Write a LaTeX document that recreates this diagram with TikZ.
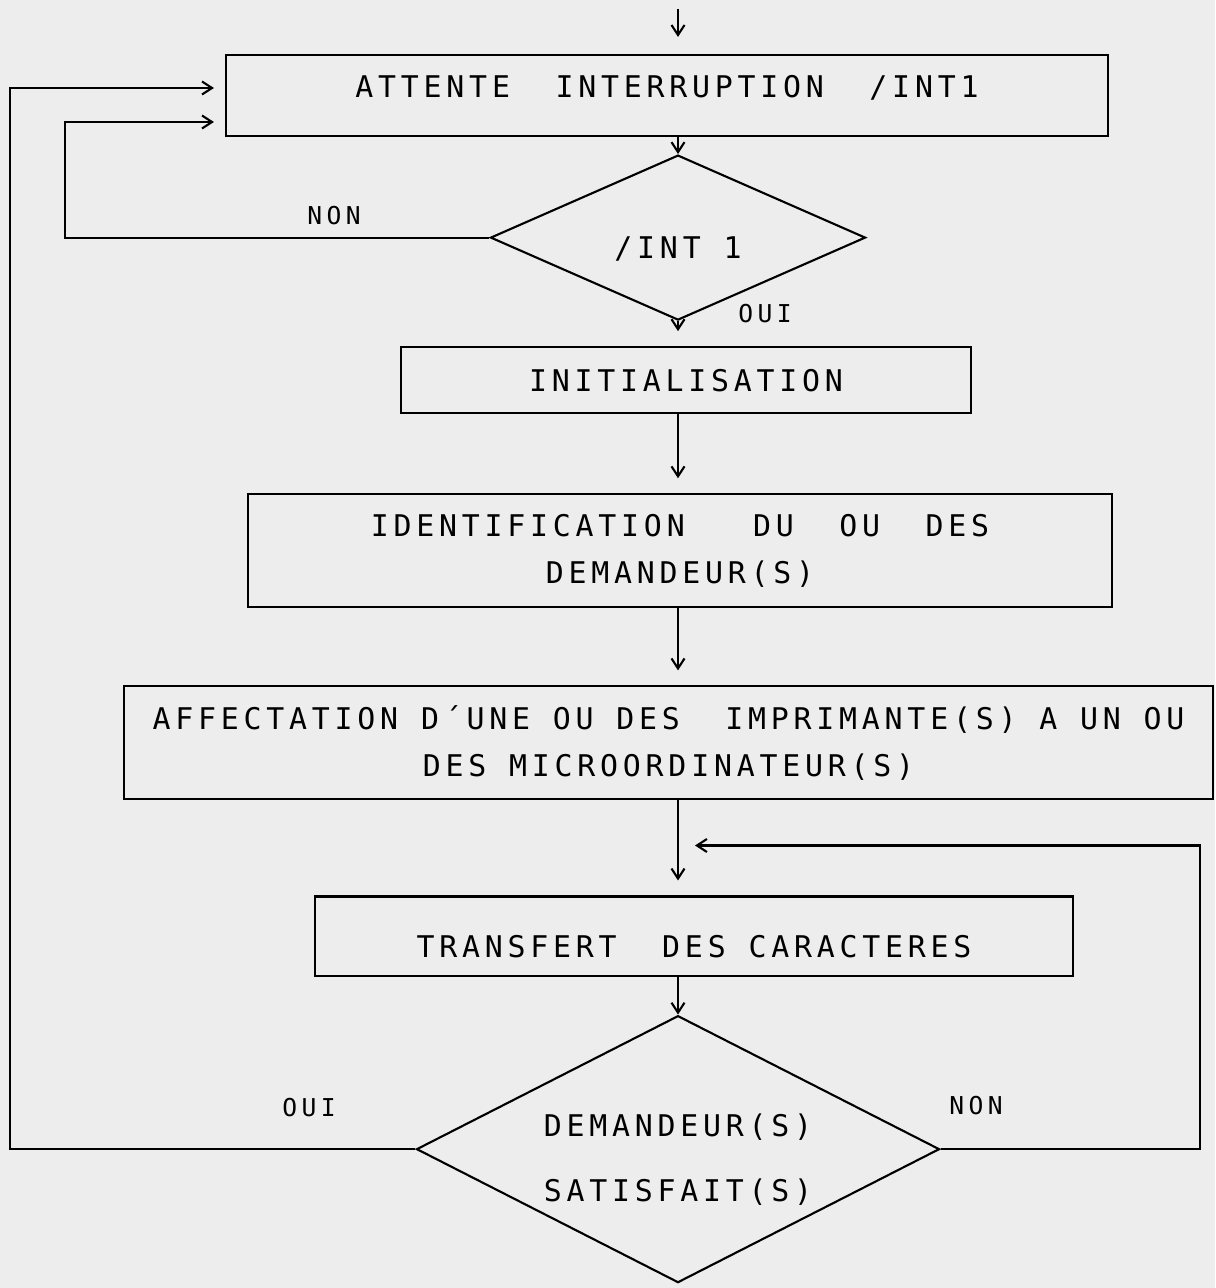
\documentclass[tikz,border=0pt]{standalone}
\usepackage{fontspec}
\usepackage{tikz}
\usetikzlibrary{positioning,arrows.meta,shapes.geometric}
\newfontfamily\plotfont[LetterSpace=16]{DejaVu Sans Mono}
\newfontfamily\labelfont[LetterSpace=18]{DejaVu Sans Mono}
\definecolor{paper}{gray}{0.93}

\begin{document}
\begin{tikzpicture}[
  font=\plotfont\fontsize{17}{27}\selectfont,
  line width=1.2pt,
  box/.style={draw, align=center, inner sep=2pt},
  decision/.style={draw, diamond, align=center, inner sep=0pt},
  arrow/.style={-{Straight Barb[length=2mm,width=2.6mm]}},
  lbl/.style={font=\labelfont\fontsize{14}{16}\selectfont, inner sep=1pt}
]
\fill[paper] (0,0) rectangle (24.3,-25.76);
\useasboundingbox (0,0) rectangle (24.3,-25.76);

\node[box, minimum width=17.64cm, minimum height=1.62cm, text height=0.46cm, text depth=0.38cm] (wait) at (13.34,-1.91) {ATTENTE~~INTERRUPTION~~/INT1};
\node[decision, aspect=2.27, minimum width=7.5cm, minimum height=3.3cm, text height=0.95cm, text depth=0.1cm, below=0.34cm of wait, xshift=0.22cm] (int) {/INT 1};
\node[box, minimum width=11.4cm, minimum height=1.32cm, below=0.5cm of int, xshift=0.16cm] (init) {INITIALISATION};
\node[box, minimum width=17.28cm, minimum height=2.26cm, below=1.58cm of init, xshift=-0.12cm] (ident) {IDENTIFICATION~~~DU~~OU~~DES\\DEMANDEUR(S)};
\node[box, minimum width=21.78cm, minimum height=2.26cm, below=1.54cm of ident, xshift=-0.23cm] (affect) {AFFECTATION D´UNE OU DES~~IMPRIMANTE(S) A UN OU\\DES MICROORDINATEUR(S)};
\node[box, minimum width=15.16cm, minimum height=1.58cm, text height=0.84cm, text depth=0cm, below=1.9cm of affect, xshift=0.51cm] (transf) {TRANSFERT~~DES CARACTERES};
\node[decision, aspect=1.96, minimum width=10.46cm, minimum height=5.34cm, text height=2.18cm, below=0.76cm of transf, xshift=-0.32cm] (done) {DEMANDEUR(S)\\[0.35cm]SATISFAIT(S)};

\node[lbl] (non1) at ([xshift=-3.11cm, yshift=0.44cm]int.west) {NON};
\node[lbl] (oui1) at ([xshift=1.74cm, yshift=0.15cm]int.south) {OUI};
\node[lbl] (oui2) at ([xshift=-2.13cm, yshift=0.84cm]done.west) {OUI};
\node[lbl] (non2) at ([xshift=0.71cm, yshift=0.88cm]done.east) {NON};

\coordinate (entry) at ([yshift=0.9cm]wait.north -| int);
\coordinate (join) at ([yshift=1cm]transf.north -| done);
\coordinate (railA) at (0.2,0);
\coordinate (railB) at (1.3,0);
\coordinate (railC) at (24.0,0);

\draw[arrow, shorten >=0.34cm] (entry) -- (wait.north -| int);
\draw[arrow] (wait.south -| int) -- (int.north);
\draw[arrow, shorten >=0.3cm] (int.south) -- (init.north -| int);
\draw[arrow, shorten >=0.3cm] (init.south -| int) -- (ident.north -| int);
\draw[arrow, shorten >=0.3cm] (ident.south -| int) -- (affect.north -| int);
\draw[arrow, shorten >=0.3cm] (affect.south -| done) -- (transf.north -| done);
\draw[arrow] (transf.south -| done) -- (done.north);

% boucles de retour
\draw[arrow, shorten >=0.22cm] (int.west) -- (int.west -| railB) |- ([yshift=-0.53cm]wait.west);
\draw[arrow, shorten >=0.22cm] (done.west) -- (done.west -| railA) |- ([yshift=0.15cm]wait.west);
\draw[arrow, shorten >=0.34cm] (done.east) -- (done.east -| railC) |- (join);
\end{tikzpicture}
\end{document}
